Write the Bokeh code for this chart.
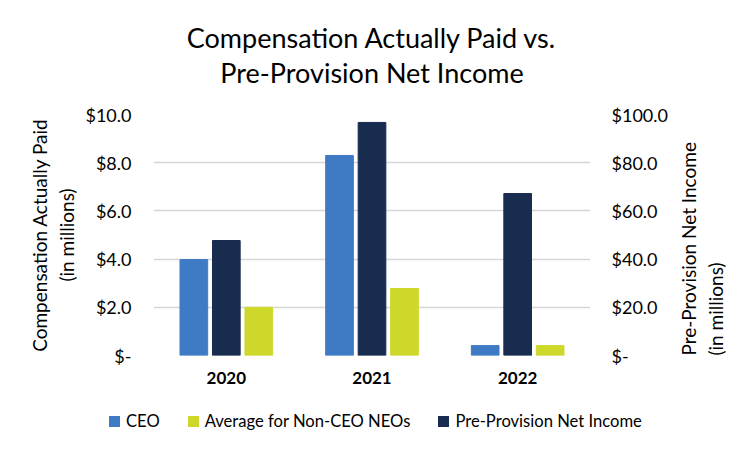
import math
from bokeh.plotting import figure
from bokeh.layouts import column
from bokeh.models import (Range1d, LinearAxis, FactorRange, NumeralTickFormatter,
                          Title, FixedTicker, Div)
from bokeh.transform import dodge
from bokeh.embed import file_html
from bokeh.resources import INLINE

years = ["2020", "2021", "2022"]
ceo = [3.98, 8.30, 0.41]          # $ millions, left axis
neo = [2.00, 2.78, 0.41]          # $ millions, left axis
ppni = [47.7, 96.7, 67.2]         # $ millions, right axis
left_ticks = [0, 2, 4, 6, 8, 10]
right_ticks = [0, 20, 40, 60, 80, 100]
series_names = ["CEO", "Average for Non-CEO NEOs", "Pre-Provision Net Income"]

FONT = "Lato"
C_CEO = "#3E7BC4"
C_PPNI = "#172C4F"
C_NEO = "#CDD82A"
series_colors = [C_CEO, C_NEO, C_PPNI]
GRID = "#D6D6D6"
INK = "#000000"

p = figure(x_range=FactorRange(*years, range_padding=0), y_range=Range1d(0, 10),
           frame_width=437, frame_height=241, output_backend="svg", toolbar_location=None,
           min_border_left=153, min_border_right=146, min_border_top=114,
           min_border_bottom=41)
p.extra_y_ranges = {"right": Range1d(0, 100)}

src = dict(years=years, ceo=ceo, neo=neo, ppni=ppni)
p.vbar(x=dodge("years", -0.223, range=p.x_range), top="ceo", width=0.19,
       source=src, color=C_CEO)
p.vbar(x=dodge("years", 0.0, range=p.x_range), top="ppni", width=0.19,
       source=src, color=C_PPNI, y_range_name="right")
p.vbar(x=dodge("years", 0.223, range=p.x_range), top="neo", width=0.19,
       source=src, color=C_NEO)

# titles: spacer (nearest the frame), line 2, then line 1 (p.title, outermost)
p.add_layout(Title(text=" ", text_font_size="1px", standoff=23), "above")
p.add_layout(Title(text="Pre-Provision Net Income", align="center",
                   text_font=FONT, text_font_size="27px", text_font_style="normal",
                   text_color=INK, standoff=0), "above")
p.title.text = "Compensation Actually Paid vs."
p.title.align = "center"
p.title.text_font = FONT
p.title.text_font_size = "27px"
p.title.text_font_style = "normal"
p.title.text_color = INK
p.title.standoff = 0

# left axis
ya = p.yaxis[0]
ya.ticker = FixedTicker(ticks=left_ticks)
ya.formatter = NumeralTickFormatter(format="$0.0")
ya.major_label_overrides = {0: "$-"}
ya.axis_line_color = None
ya.major_tick_line_color = None
ya.minor_tick_line_color = None
ya.major_label_text_font = FONT
ya.major_label_text_font_size = "18px"
ya.major_label_text_color = INK
ya.major_label_standoff = 16
ya.axis_label = "Compensation Actually Paid\n(in millions)"
ya.axis_label_text_font = FONT
ya.axis_label_text_font_size = "19px"
ya.axis_label_text_font_style = "normal"
ya.axis_label_text_color = INK
ya.axis_label_standoff = 4

# right axis
ra = LinearAxis(y_range_name="right", ticker=FixedTicker(ticks=right_ticks),
                formatter=NumeralTickFormatter(format="$0.0"))
ra.major_label_overrides = {0: "$-"}
ra.axis_line_color = None
ra.major_tick_line_color = None
ra.minor_tick_line_color = None
ra.major_label_text_font = FONT
ra.major_label_text_font_size = "18px"
ra.major_label_text_color = INK
ra.major_label_standoff = 15
ra.axis_label = "Pre-Provision Net Income\n(in millions)"
ra.axis_label_text_font = FONT
ra.axis_label_text_font_size = "19px"
ra.axis_label_text_font_style = "normal"
ra.axis_label_text_color = INK
ra.axis_label_standoff = 31
ra.axis_label_orientation = math.pi / 2
try:
    ra.axis_label_align = "start"
except Exception:
    pass
p.add_layout(ra, "right")

# x axis
xa = p.xaxis[0]
xa.axis_line_color = None
xa.major_tick_line_color = None
xa.minor_tick_line_color = None
xa.major_label_text_font = FONT
xa.major_label_text_font_size = "17px"
xa.major_label_text_font_style = "bold"
xa.major_label_text_color = INK
xa.major_label_standoff = 10

p.xgrid.grid_line_color = None
p.ygrid.grid_line_color = GRID
p.ygrid.grid_line_width = 1.6
p.ygrid.ticker = FixedTicker(ticks=left_ticks)
p.outline_line_color = None

# legend strip below the chart
items = []
for i, (name, col) in enumerate(zip(series_names, series_colors)):
    gap = "0" if i == 0 else "28px"
    items.append(
        f'<span style="display:inline-block;width:11px;height:11px;background:{col};'
        f'margin-left:{gap};margin-right:6px;flex:none"></span>'
        f'<span style="white-space:nowrap">{name}</span>')
legend_html = ('<div style="display:flex;align-items:center;box-sizing:border-box;'
               'height:40px;padding-top:11px;padding-left:109px;'
               f'font-family:{FONT};font-size:16.6px;color:{INK};white-space:nowrap">'
               + "".join(items) + '</div>')
legend_div = Div(text=legend_html, width=736, height=40, margin=0)

layout = column(p, legend_div, spacing=0)
open("out.html", "w").write(file_html(layout, INLINE))
